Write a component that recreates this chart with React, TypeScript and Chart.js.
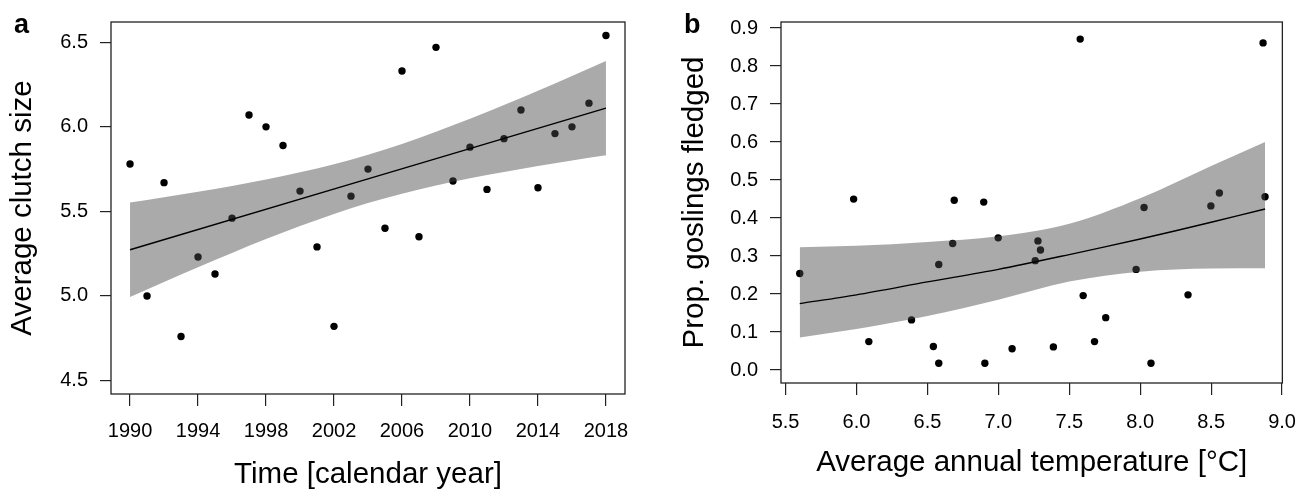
import React, { useEffect, useRef } from "react";
import { Chart, registerables } from "chart.js";

Chart.register(...registerables);

// ---------- Panel a data ----------
const yearsA = [1990, 1991, 1992, 1993, 1994, 1995, 1996, 1997, 1998, 1999, 2000, 2001, 2002, 2003, 2004, 2005, 2006, 2007, 2008, 2009, 2010, 2011, 2012, 2013, 2014, 2015, 2016, 2017, 2018];
const clutchA = [5.78, 5.0, 5.67, 4.76, 5.23, 5.13, 5.46, 6.07, 6.0, 5.89, 5.62, 5.29, 4.82, 5.59, 5.75, 5.4, 6.33, 5.35, 6.47, 5.68, 5.88, 5.63, 5.93, 6.1, 5.64, 5.96, 6.0, 6.14, 6.54];
const bandYearsA = [1990, 1992, 1994, 1996, 1998, 2000, 2002, 2004, 2006, 2008, 2010, 2012, 2014, 2016, 2018];
const bandUpperA = [5.552, 5.583, 5.616, 5.65, 5.688, 5.731, 5.779, 5.835, 5.899, 5.971, 6.048, 6.129, 6.214, 6.301, 6.39];
const bandLowerA = [4.994, 5.083, 5.17, 5.254, 5.336, 5.413, 5.485, 5.549, 5.605, 5.653, 5.696, 5.733, 5.768, 5.801, 5.832];
const fitYearsA = [1990, 2018];
const fitA = [5.273, 6.111];
const xTicksA = [1990, 1994, 1998, 2002, 2006, 2010, 2014, 2018];
const yTicksA = [4.5, 5.0, 5.5, 6.0, 6.5];

// ---------- Panel b data ----------
const tempB = [5.6, 5.98, 6.087, 6.388, 6.542, 6.58, 6.58, 6.678, 6.689, 6.897, 6.905, 6.999, 7.097, 7.26, 7.279, 7.297, 7.388, 7.577, 7.598, 7.678, 7.757, 7.971, 8.027, 8.076, 8.337, 8.498, 8.558, 8.866, 8.88];
const propB = [0.254, 0.45, 0.075, 0.132, 0.062, 0.278, 0.018, 0.333, 0.447, 0.442, 0.018, 0.348, 0.056, 0.288, 0.34, 0.316, 0.061, 0.871, 0.196, 0.075, 0.138, 0.265, 0.428, 0.018, 0.198, 0.432, 0.466, 0.861, 0.456];
const bandTempB = [5.6, 6.0, 6.5, 7.0, 7.5, 8.0, 8.5, 8.88];
const bandUpperB = [0.323, 0.327, 0.337, 0.352, 0.385, 0.452, 0.537, 0.6];
const bandLowerB = [0.086, 0.108, 0.142, 0.185, 0.233, 0.259, 0.267, 0.268];
const fitB = [0.175, 0.198, 0.232, 0.265, 0.304, 0.345, 0.389, 0.424];
const xTicksB = [5.5, 6.0, 6.5, 7.0, 7.5, 8.0, 8.5, 9.0];
const yTicksB = [0.0, 0.1, 0.2, 0.3, 0.4, 0.5, 0.6, 0.7, 0.8, 0.9];

const FONT = "'Liberation Sans', Arial, Helvetica, sans-serif";
const BAND = "rgba(74,74,74,0.47)";
const AXIS_COLOR = "#222";

const pts = (xs: number[], ys: number[]) => xs.map((x, i) => ({ x, y: ys[i] }));

type PanelCfg = {
  letter: string;
  letterX: number;
  width: number;
  xs: number[];
  ys: number[];
  bandX: number[];
  bandU: number[];
  bandL: number[];
  fitX: number[];
  fitY: number[];
  xTicks: number[];
  yTicks: number[];
  xMin: number;
  xMax: number;
  yMin: number;
  yMax: number;
  xFmt: (v: number) => string;
  xTitle: string;
  yTitle: string;
  yAxisW: number;
  xAxisH: number;
  padTop: number;
  padRight: number;
  xTickPad: number;
  yTickPad: number;
  xTitlePad: number;
  yTitlePad: number;
  xTickLen: number;
  yTickLen: number;
};

function makeChart(canvas: HTMLCanvasElement, c: PanelCfg) {
  const boxPlugin = {
    id: "boxAndLetter",
    afterDraw(chart: any) {
      const { ctx, chartArea } = chart;
      ctx.save();
      ctx.strokeStyle = AXIS_COLOR;
      ctx.lineWidth = 1.3;
      ctx.strokeRect(chartArea.left, chartArea.top, chartArea.right - chartArea.left, chartArea.bottom - chartArea.top);
      ctx.fillStyle = "#000";
      ctx.font = `bold 27px ${FONT}`;
      ctx.textBaseline = "alphabetic";
      ctx.textAlign = "left";
      ctx.fillText(c.letter, c.letterX, 33);
      ctx.restore();
    },
  };

  return new Chart(canvas, {
    type: "scatter",
    data: {
      datasets: [
        {
          type: "line",
          label: "fit",
          data: pts(c.fitX, c.fitY),
          borderColor: "#000",
          borderWidth: 1.4,
          pointRadius: 0,
          tension: 0.3,
          fill: false,
          order: 0,
        } as any,
        {
          type: "line",
          label: "upper",
          data: pts(c.bandX, c.bandU),
          borderWidth: 0,
          borderColor: "rgba(0,0,0,0)",
          backgroundColor: BAND,
          pointRadius: 0,
          cubicInterpolationMode: "monotone",
          fill: "+1",
          order: 1,
        } as any,
        {
          type: "line",
          label: "lower",
          data: pts(c.bandX, c.bandL),
          borderWidth: 0,
          borderColor: "rgba(0,0,0,0)",
          pointRadius: 0,
          cubicInterpolationMode: "monotone",
          fill: false,
          order: 1,
        } as any,
        {
          type: "scatter",
          label: "obs",
          data: pts(c.xs, c.ys),
          backgroundColor: "#000",
          borderWidth: 0,
          pointRadius: 3.7,
          order: 2,
        } as any,
      ],
    },
    options: {
      animation: false,
      responsive: false,
      devicePixelRatio: 1,
      layout: { padding: { left: 0, top: c.padTop, right: c.padRight, bottom: 0 } },
      plugins: { legend: { display: false }, tooltip: { enabled: false } },
      scales: {
        x: {
          type: "linear",
          min: c.xMin,
          max: c.xMax,
          afterBuildTicks: (s: any) => {
            s.ticks = c.xTicks.map((v) => ({ value: v }));
          },
          afterFit: (s: any) => {
            s.height = c.xAxisH;
          },
          ticks: {
            autoSkip: false,
            maxRotation: 0,
            padding: c.xTickPad,
            color: "#000",
            font: { family: FONT, size: 20, lineHeight: 1 },
            callback: (v: any) => c.xFmt(Number(v)),
          },
          grid: { display: true, drawOnChartArea: false, drawTicks: true, tickLength: c.xTickLen, color: AXIS_COLOR, lineWidth: 1.2 },
          border: { display: false },
          title: {
            display: true,
            text: c.xTitle,
            color: "#000",
            font: { family: FONT, size: 29.5, lineHeight: 1 },
            padding: { top: 0, bottom: c.xTitlePad },
          },
        },
        y: {
          type: "linear",
          min: c.yMin,
          max: c.yMax,
          afterBuildTicks: (s: any) => {
            s.ticks = c.yTicks.map((v) => ({ value: v }));
          },
          afterFit: (s: any) => {
            s.width = c.yAxisW;
          },
          ticks: {
            autoSkip: false,
            padding: c.yTickPad,
            color: "#000",
            font: { family: FONT, size: 20, lineHeight: 1 },
            callback: (v: any) => Number(v).toFixed(1),
          },
          grid: { display: true, drawOnChartArea: false, drawTicks: true, tickLength: c.yTickLen, color: AXIS_COLOR, lineWidth: 1.2 },
          border: { display: false },
          title: {
            display: true,
            text: c.yTitle,
            color: "#000",
            font: { family: FONT, size: 29.5, lineHeight: 1 },
            padding: { top: c.yTitlePad, bottom: 0 },
          },
        },
      },
    },
    plugins: [boxPlugin],
  } as any);
}

const cfgA: PanelCfg = {
  letter: "a",
  letterX: 14,
  width: 656,
  xs: yearsA,
  ys: clutchA,
  bandX: bandYearsA,
  bandU: bandUpperA,
  bandL: bandLowerA,
  fitX: fitYearsA,
  fitY: fitA,
  xTicks: xTicksA,
  yTicks: yTicksA,
  xMin: 1988.88,
  xMax: 2019.12,
  yMin: 4.42,
  yMax: 6.62,
  xFmt: (v) => String(v),
  xTitle: "Time [calendar year]",
  yTitle: "Average clutch size",
  yAxisW: 111,
  xAxisH: 96,
  padTop: 13,
  padRight: 31,
  xTickPad: 15,
  yTickPad: 12,
  xTitlePad: 0,
  yTitlePad: 8,
  xTickLen: 12,
  yTickLen: 11,
};

const cfgB: PanelCfg = {
  letter: "b",
  letterX: 28,
  width: 657,
  xs: tempB,
  ys: propB,
  bandX: bandTempB,
  bandU: bandUpperB,
  bandL: bandLowerB,
  fitX: bandTempB,
  fitY: fitB,
  xTicks: xTicksB,
  yTicks: yTicksB,
  xMin: 5.468,
  xMax: 9.002,
  yMin: -0.034,
  yMax: 0.916,
  xFmt: (v) => v.toFixed(1),
  xTitle: "Average annual temperature [°C]",
  yTitle: "Prop. goslings fledged",
  yAxisW: 125,
  xAxisH: 107,
  padTop: 8,
  padRight: 27,
  xTickPad: 17,
  yTickPad: 12,
  xTitlePad: 12,
  yTitlePad: 24,
  xTickLen: 12,
  yTickLen: 11,
};

function Panel({ cfg, left }: { cfg: PanelCfg; left: number }) {
  const ref = useRef<HTMLCanvasElement | null>(null);
  useEffect(() => {
    if (!ref.current) return;
    const chart = makeChart(ref.current, cfg);
    return () => chart.destroy();
  }, [cfg]);
  return (
    <canvas
      ref={ref}
      width={cfg.width}
      height={490}
      style={{ position: "absolute", left, top: 0, width: cfg.width, height: 490 }}
    />
  );
}

export default function App() {
  return (
    <div style={{ position: "absolute", left: 0, top: 0, width: 1313, height: 490, background: "#fff", overflow: "hidden" }}>
      <Panel cfg={cfgA} left={0} />
      <Panel cfg={cfgB} left={656} />
    </div>
  );
}
